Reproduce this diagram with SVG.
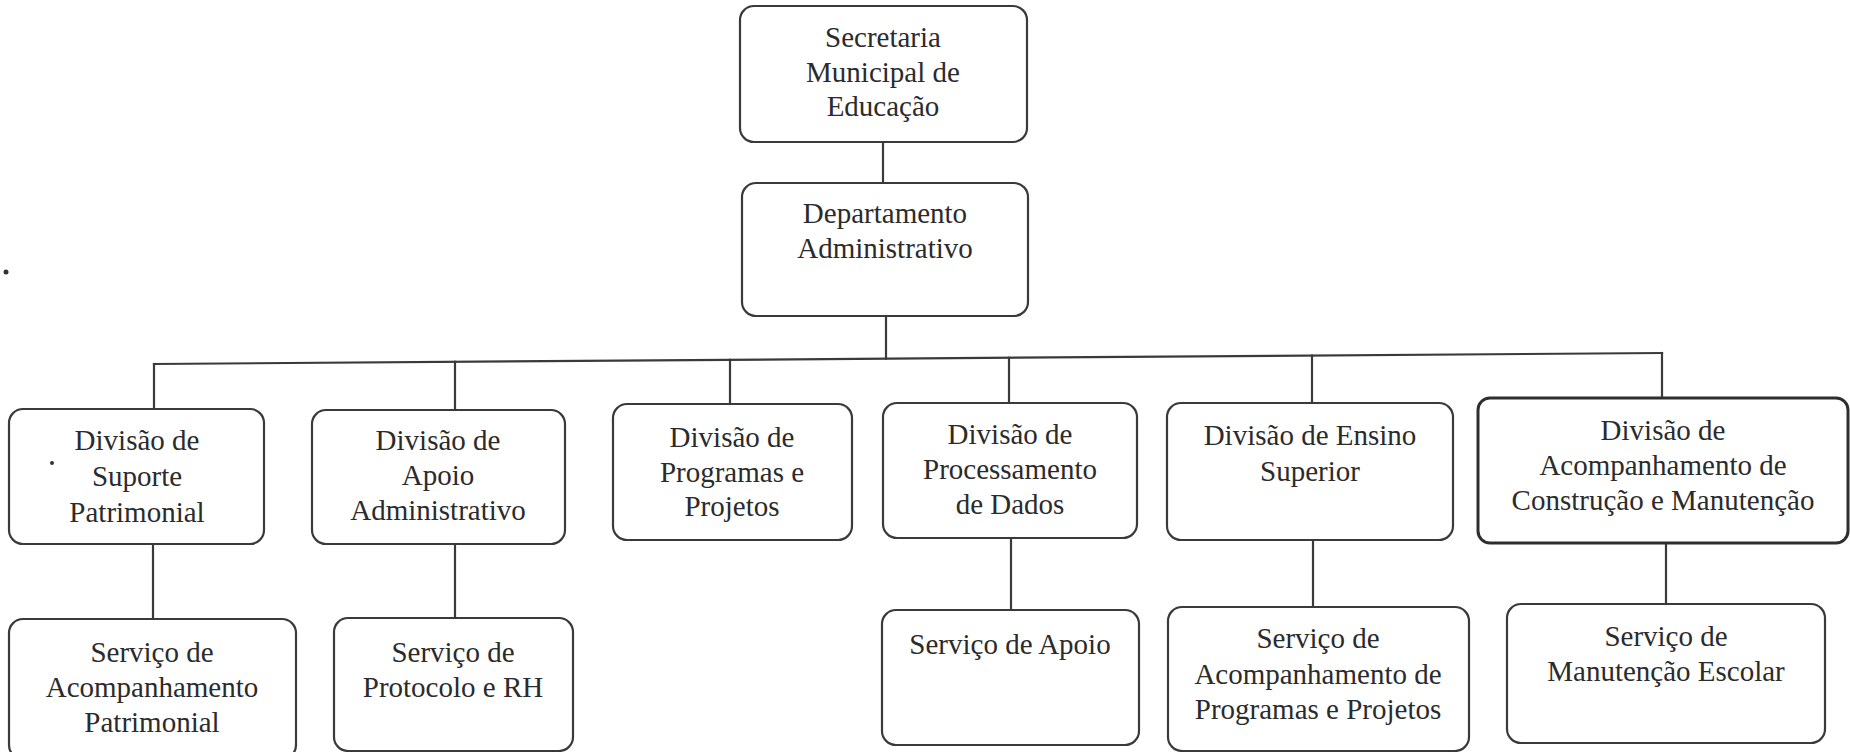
<svg xmlns="http://www.w3.org/2000/svg" width="1850" height="752" viewBox="0 0 1850 752">
  <style>
    .box { fill: #ffffff; stroke: #3a3a3a; stroke-width: 2.2; }
    .box-heavy { fill: #ffffff; stroke: #2e2e2e; stroke-width: 3; }
    .lbl { font-family: "Liberation Serif", "Times New Roman", serif; font-size: 29px; fill: #2b2b2b; text-anchor: middle; }
    .wire { fill: none; stroke: #3a3a3a; stroke-width: 2.2; stroke-linecap: square; }
    .speck { fill: #333333; }
  </style>

  <rect width="1850" height="752" fill="#ffffff"/>

  <!-- connectors -->
  <g id="connectors">
    <line class="wire" x1="883" y1="142" x2="883" y2="183"/>
    <line class="wire" x1="886" y1="316" x2="886" y2="358.7"/>
    <!-- distribution bus -->
    <line class="wire" x1="154" y1="364" x2="1662" y2="353"/>
    <line class="wire" x1="154" y1="364" x2="154" y2="409"/>
    <line class="wire" x1="455" y1="361.8" x2="455" y2="410"/>
    <line class="wire" x1="730" y1="359.8" x2="730" y2="404"/>
    <line class="wire" x1="1009" y1="357.8" x2="1009" y2="403"/>
    <line class="wire" x1="1312" y1="355.6" x2="1312" y2="403"/>
    <line class="wire" x1="1662" y1="353" x2="1662" y2="398"/>
    <!-- division to service -->
    <line class="wire" x1="153" y1="544" x2="153" y2="619"/>
    <line class="wire" x1="455" y1="544" x2="455" y2="618"/>
    <line class="wire" x1="1011" y1="538" x2="1011" y2="610"/>
    <line class="wire" x1="1313" y1="540" x2="1313" y2="607"/>
    <line class="wire" x1="1666" y1="543" x2="1666" y2="603"/>
  </g>

  <!-- top level -->
  <g id="secretaria">
    <rect class="box" x="740" y="6" width="287" height="136" rx="14"/>
    <text class="lbl" x="883" y="47">Secretaria</text>
    <text class="lbl" x="883" y="82">Municipal de</text>
    <text class="lbl" x="883" y="116">Educação</text>
  </g>

  <g id="departamento">
    <rect class="box" x="742" y="183" width="286" height="133" rx="14"/>
    <text class="lbl" x="885" y="223">Departamento</text>
    <text class="lbl" x="885" y="258">Administrativo</text>
  </g>

  <!-- divisions -->
  <g id="div-suporte">
    <rect class="box" x="9" y="409" width="255" height="135" rx="14"/>
    <text class="lbl" x="137" y="450">Divisão de</text>
    <text class="lbl" x="137" y="486">Suporte</text>
    <text class="lbl" x="137" y="522">Patrimonial</text>
  </g>

  <g id="div-apoio">
    <rect class="box" x="312" y="410" width="253" height="134" rx="14"/>
    <text class="lbl" x="438" y="450">Divisão de</text>
    <text class="lbl" x="438" y="485">Apoio</text>
    <text class="lbl" x="438" y="520">Administrativo</text>
  </g>

  <g id="div-programas">
    <rect class="box" x="613" y="404" width="239" height="136" rx="14"/>
    <text class="lbl" x="732" y="447">Divisão de</text>
    <text class="lbl" x="732" y="482">Programas e</text>
    <text class="lbl" x="732" y="516">Projetos</text>
  </g>

  <g id="div-processamento">
    <rect class="box" x="883" y="403" width="254" height="135" rx="14"/>
    <text class="lbl" x="1010" y="444">Divisão de</text>
    <text class="lbl" x="1010" y="479">Processamento</text>
    <text class="lbl" x="1010" y="514">de Dados</text>
  </g>

  <g id="div-ensino">
    <rect class="box" x="1167" y="403" width="286" height="137" rx="14"/>
    <text class="lbl" x="1310" y="445">Divisão de Ensino</text>
    <text class="lbl" x="1310" y="481">Superior</text>
  </g>

  <g id="div-construcao">
    <rect class="box-heavy" x="1478" y="398" width="370" height="145" rx="12"/>
    <text class="lbl" x="1663" y="440">Divisão de</text>
    <text class="lbl" x="1663" y="475">Acompanhamento de</text>
    <text class="lbl" x="1663" y="510">Construção e Manutenção</text>
  </g>

  <!-- services -->
  <g id="serv-patrimonial">
    <rect class="box" x="9" y="619" width="287" height="140" rx="14"/>
    <text class="lbl" x="152" y="662">Serviço de</text>
    <text class="lbl" x="152" y="697">Acompanhamento</text>
    <text class="lbl" x="152" y="732">Patrimonial</text>
  </g>

  <g id="serv-protocolo">
    <rect class="box" x="334" y="618" width="239" height="133" rx="14"/>
    <text class="lbl" x="453" y="662">Serviço de</text>
    <text class="lbl" x="453" y="697">Protocolo e RH</text>
  </g>

  <g id="serv-apoio">
    <rect class="box" x="882" y="610" width="257" height="135" rx="14"/>
    <text class="lbl" x="1010" y="654">Serviço de Apoio</text>
  </g>

  <g id="serv-programas">
    <rect class="box" x="1168" y="607" width="301" height="144" rx="14"/>
    <text class="lbl" x="1318" y="648">Serviço de</text>
    <text class="lbl" x="1318" y="684">Acompanhamento de</text>
    <text class="lbl" x="1318" y="719">Programas e Projetos</text>
  </g>

  <g id="serv-manutencao">
    <rect class="box" x="1507" y="604" width="318" height="139" rx="14"/>
    <text class="lbl" x="1666" y="646">Serviço de</text>
    <text class="lbl" x="1666" y="681">Manutenção Escolar</text>
  </g>

  <!-- stray marks on the sheet -->
  <circle class="speck" cx="6" cy="272" r="2.5"/>
  <circle class="speck" cx="52" cy="463" r="2"/>
</svg>
